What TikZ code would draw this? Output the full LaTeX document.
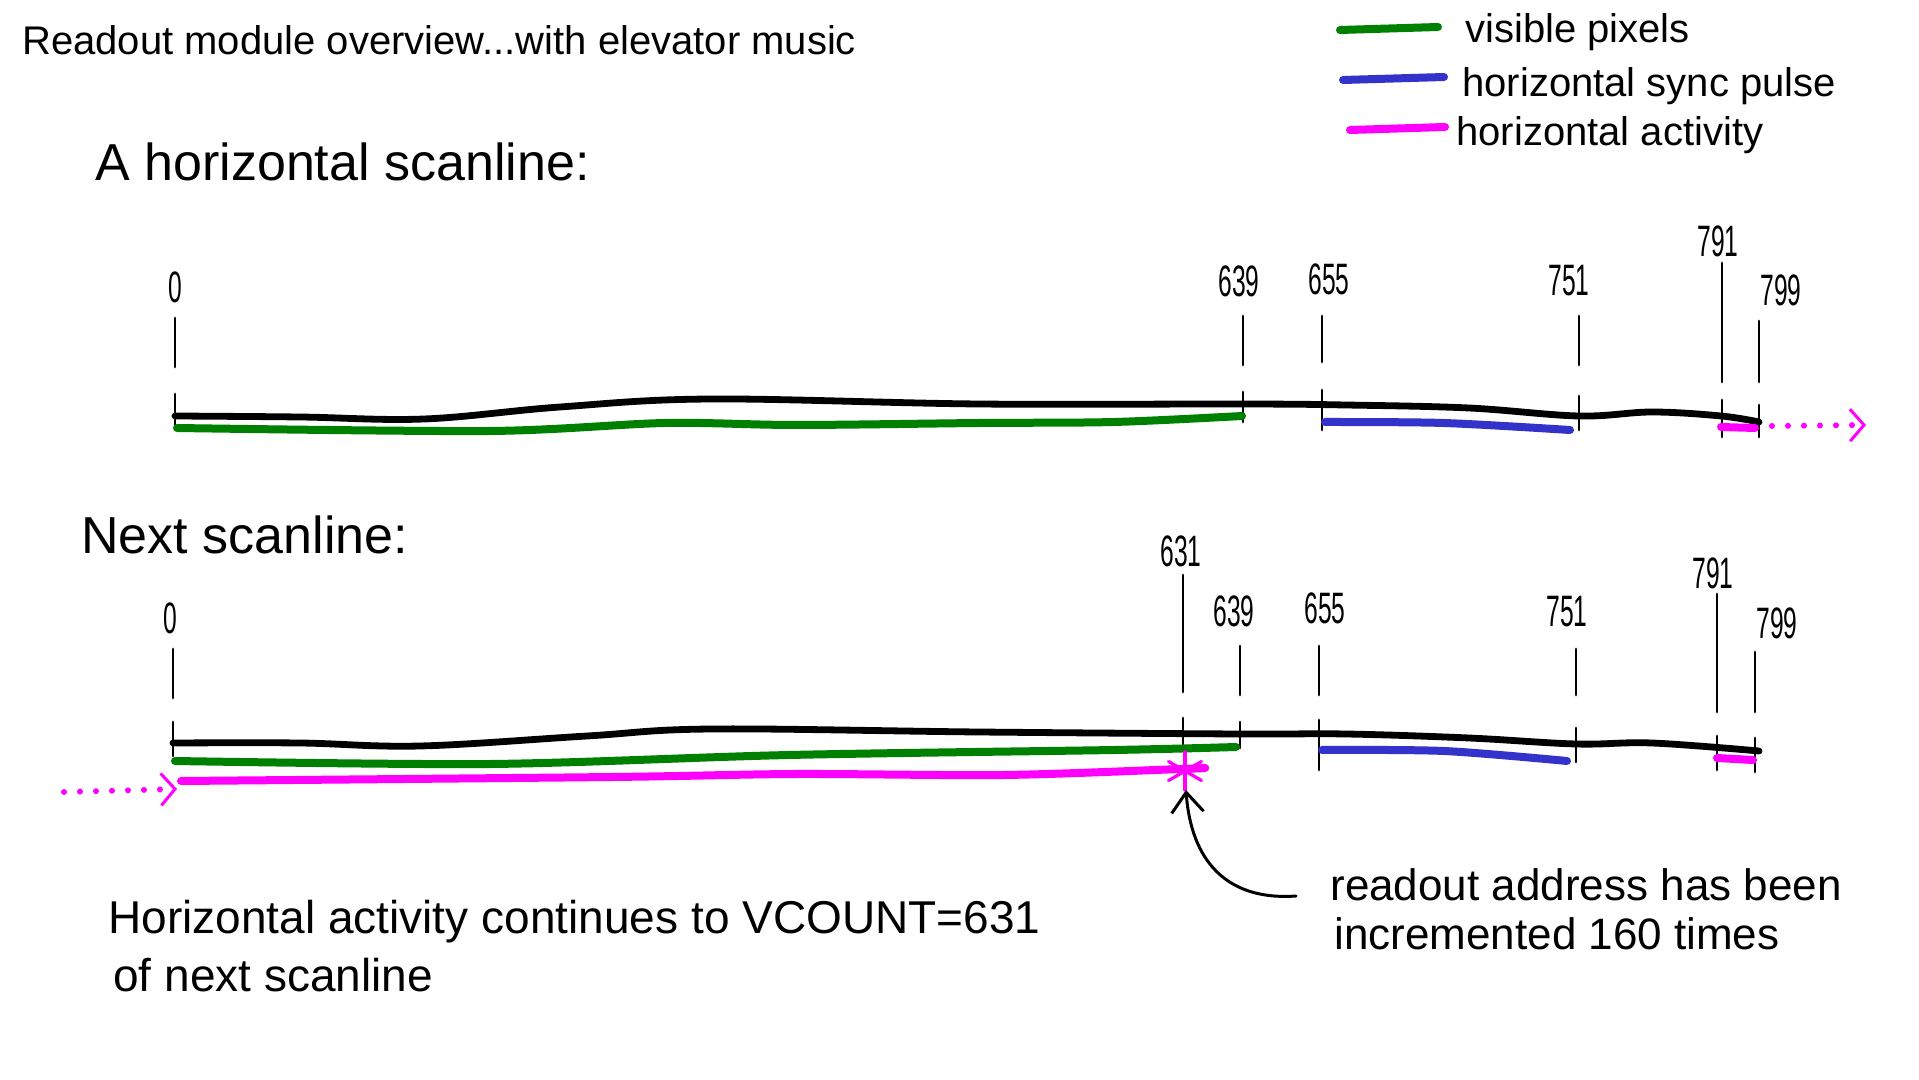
\documentclass[tikz,border=0pt]{standalone}
\usepackage{fontspec}
\setmainfont{Liberation Sans}
\usetikzlibrary{arrows.meta}
\definecolor{pixgreen}{RGB}{0,128,0}
\definecolor{syncblue}{RGB}{51,51,204}
\definecolor{actmag}{RGB}{255,0,255}

\begin{document}
\begin{tikzpicture}[x=0.5pt, y=-0.5pt, line cap=round, line join=round,
    scan/.style={line width=3.4pt},
    tick/.style={line width=1.4pt},
    band/.style={line width=4pt},
    dots/.style={actmag, line width=3pt, dash pattern=on 0pt off 8pt,
      -{Straight Barb[length=7pt, width=16pt, line width=1.5pt]}},
    num/.style={font=\fontsize{22}{22}\selectfont, xscale=0.56, anchor=base, inner sep=0pt},
    hand/.style={anchor=base west, inner sep=0pt}]
    \useasboundingbox (0,0) rectangle (1919,1080);

    % titles
    \node[hand, font=\fontsize{20}{20}\selectfont] (title) at (22,55)
      {Readout module overview...with elevator music};
    \node[hand, font=\fontsize{26}{26}\selectfont] (capA) at (95,181) {A horizontal scanline:};
    \node[hand, font=\fontsize{26}{26}\selectfont] (capB) at (81,554) {Next scanline:};

    % legend
    \draw[band, pixgreen] (1340,30) -- (1438,27);
    \draw[band, syncblue] (1343,80) -- (1444,77);
    \draw[band, actmag] (1350,130) -- (1445,127);
    \node[hand, font=\fontsize{20}{20}\selectfont] (lvis) at (1465,43) {visible pixels};
    \node[hand, font=\fontsize{20}{20}\selectfont] (lsync) at (1462,97) {horizontal sync pulse};
    \node[hand, font=\fontsize{20}{20}\selectfont] (lact) at (1456,146) {horizontal activity};

    % first scanline
    \draw[scan] plot[smooth, tension=0.6] coordinates {
      (175,416) (300,417) (424,419) (560,407) (711,399) (979,404) (1243,404)
      (1346,405) (1469,408) (1579,416) (1652,412) (1721,416) (1759,422)};
    \foreach \x/\ya/\yb/\yc/\yd/\lx/\ly/\lab in {
        175/318/367/394/428/175/303/0, 1243/316/365/392/422/1239/297/639,
        1322/316/362/390/430/1329/295/655, 1579/316/365/396/430/1569/296/751,
        1722/263/382/400/437/1718/257/791, 1759/321/382/405/437/1781/306/799} {
      \draw[tick] (\x,\ya) -- (\x,\yb);
      \draw[tick] (\x,\yc) -- (\x,\yd);
      \node[num] (n\lab) at (\lx,\ly) {\lab};
    }
    \draw[band, pixgreen] plot[smooth] coordinates {
      (177,428) (490,431) (665,423) (796,425) (979,423) (1114,422) (1242,416)};
    \draw[band, syncblue] plot[smooth] coordinates {(1325,422) (1444,423) (1570,430)};
    \draw[band, actmag] (1721,427) -- (1755,428);
    \draw[dots] (1772,426) -- (1866,425);

    % next scanline
    \draw[scan] plot[smooth, tension=0.6] coordinates {
      (173,743) (300,743) (420,746) (587,736) (711,729) (979,732) (1240,734)
      (1346,734) (1469,738) (1576,744) (1652,743) (1759,751)};
    \foreach \x/\ya/\yb/\yc/\yd/\lx/\ly/\lab in {
        173/649/698/722/756/170/634/0, 1183/575/692/718/749/1181/567/631,
        1240/646/695/722/748/1234/627/639, 1319/646/695/720/770/1325/624/655,
        1576/649/695/728/762/1567/627/751, 1717/594/712/736/770/1713/589/791,
        1755/652/712/738/772/1777/639/799} {
      \draw[tick] (\x,\ya) -- (\x,\yb);
      \draw[tick] (\x,\yc) -- (\x,\yd);
      \node[num] (m\lab) at (\lx,\ly) {\lab};
    }
    \draw[band, pixgreen] plot[smooth] coordinates {
      (175,761) (490,764) (789,755) (1114,750) (1236,747)};
    \draw[band, actmag] plot[smooth] coordinates {
      (181,781) (612,777) (796,774) (1004,775) (1181,769) (1205,768)};
    \draw[band, syncblue] plot[smooth] coordinates {(1322,750) (1444,751) (1567,761)};
    \draw[band, actmag] (1717,758) -- (1753,760);
    \draw[dots] (64,792) -- (177,789);

    % asterisk where readout stops
    \coordinate (star) at (1185,771);
    \foreach \a in {90,30,150}
      \draw[actmag, line width=1.6pt] (star) ++(\a:19) -- ++(\a+180:38);

    % notes
    \node[hand, font=\fontsize{23}{23}\selectfont] (desc1) at (108,933)
      {Horizontal activity continues to VCOUNT=631};
    \node[hand, font=\fontsize{23}{23}\selectfont] (desc2) at (113,991) {of next scanline};
    \node[hand, font=\fontsize{22}{22}\selectfont] (note1) at (1330,900) {readout address has been};
    \node[hand, font=\fontsize{22}{22}\selectfont] (note2) at (1334,949) {incremented 160 times};

    \coordinate (hit) at (1186,790);
    \draw[line width=1.5pt, -{Straight Barb[length=10pt, width=16pt]}]
      ([xshift=-17pt, yshift=2pt]note1.base west) .. controls +(-70,5) and +(5,70) .. (hit);
\end{tikzpicture}
\end{document}
